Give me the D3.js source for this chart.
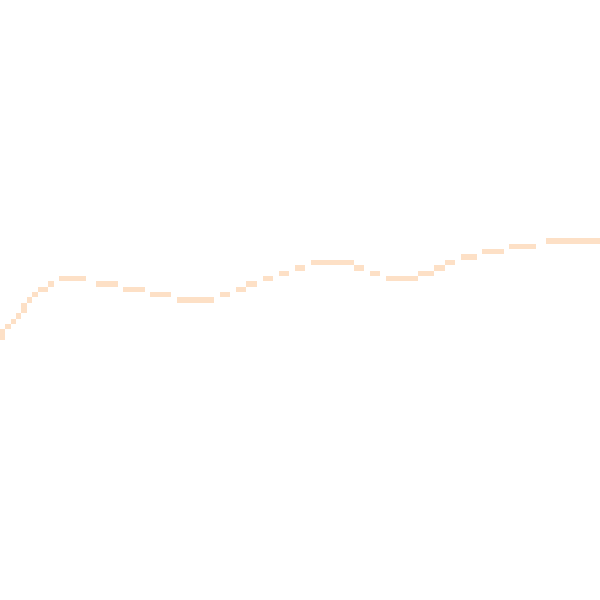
<!DOCTYPE html>
<html>
<head>
<meta charset="utf-8">
<script src="https://cdn.jsdelivr.net/npm/d3@7"></script>
<style>
  html, body { margin: 0; padding: 0; background: #ffffff; overflow: hidden; }
  svg { display: block; }
</style>
</head>
<body>
<svg id="chart" width="600" height="600"></svg>
<script>
// ---- data ----
const categories = ["1", "2", "3", "4", "5", "6", "7", "8", "9", "10"];
const values = [43.5, 53.42, 51.83, 50.0, 53.5, 56.5, 53.5, 57.08, 59.25, 59.95];
const yDomain = [0, 100];

// ---- setup ----
const W = 600, H = 600;
const LINE_COLOR = "#fde0c6";
const LINE_WIDTH = 4.5;
const svg = d3.select("#chart");

const x = d3.scalePoint().domain(categories).range([0, W]);
const y = d3.scaleLinear().domain(yDomain).range([H, 0]);

const data = categories.map((c, i) => ({ c, v: values[i] }));
const line = d3.line()
  .x(d => x(d.c))
  .y(d => y(d.v))
  .curve(d3.curveMonotoneX);

// Rasterise the line at full resolution (off-screen)
const SS = 2; // supersampling
const cv = document.createElement("canvas");
cv.width = W * SS; cv.height = H * SS;
const ctx = cv.getContext("2d");
ctx.scale(SS, SS);
ctx.beginPath();
line.context(ctx)(data);
ctx.lineWidth = LINE_WIDTH;
ctx.lineCap = "square";
ctx.strokeStyle = "#000";
ctx.stroke();
const img = ctx.getImageData(0, 0, W * SS, H * SS).data;

// coarse pixel grid: average coverage per cell, then threshold
const N = 112;
const cell = W / N;
const yOff = cell / 2;
const gx = d3.scaleLinear().domain([0, N]).range([0, W]);
const gy = d3.scaleLinear().domain([0, N]).range([yOff, yOff + W]);
const THRESH = 0.55;

const cells = [];
for (let j = -1; j <= N; j++) {
  const y0 = Math.max(0, Math.round(gy(j) * SS)), y1 = Math.min(H * SS, Math.round(gy(j + 1) * SS));
  if (y1 <= y0) continue;
  for (let i = 0; i < N; i++) {
    const x0 = Math.round(gx(i) * SS), x1 = Math.round(gx(i + 1) * SS);
    let sum = 0, n = 0;
    for (let yy = y0; yy < y1; yy++) {
      for (let xx = x0; xx < x1; xx++) { sum += img[(yy * W * SS + xx) * 4 + 3]; n++; }
    }
    if (n && sum / n / 255 >= THRESH) cells.push({ i, j });
  }
}

svg.append("g")
  .attr("shape-rendering", "crispEdges")
  .selectAll("rect")
  .data(cells)
  .join("rect")
  .attr("x", d => Math.round(gx(d.i)))
  .attr("y", d => Math.round(gy(d.j)))
  .attr("width", d => Math.round(gx(d.i + 1)) - Math.round(gx(d.i)))
  .attr("height", d => Math.round(gy(d.j + 1)) - Math.round(gy(d.j)))
  .attr("fill", LINE_COLOR);
</script>
</body>
</html>
